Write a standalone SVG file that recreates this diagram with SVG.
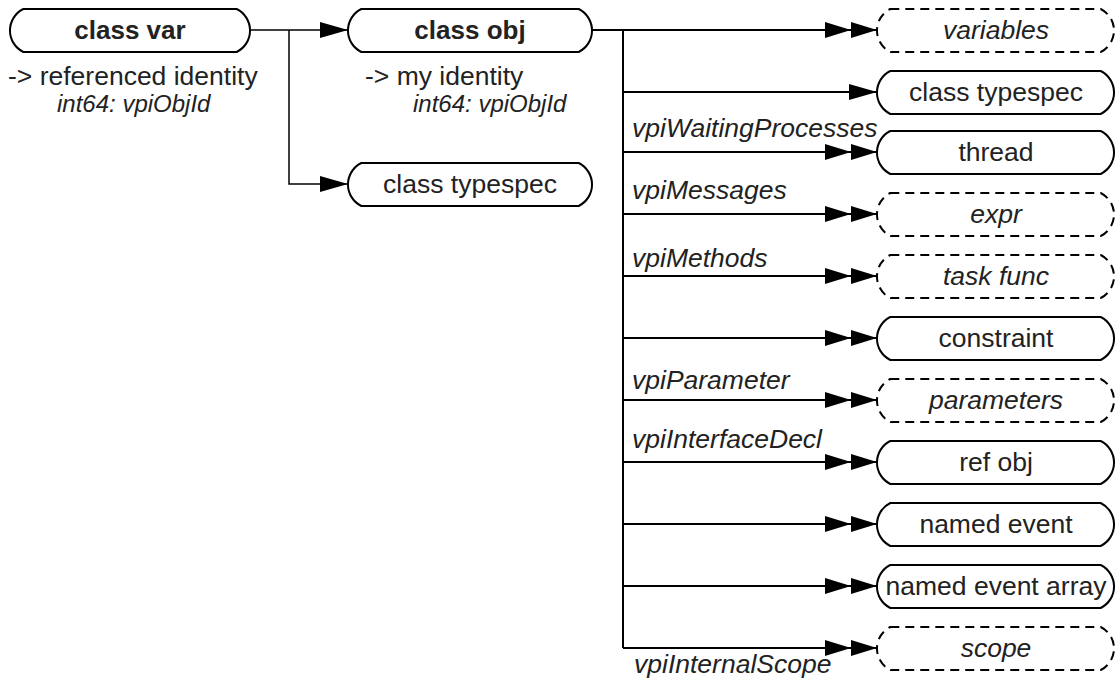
<svg xmlns="http://www.w3.org/2000/svg" width="1117" height="679" viewBox="0 0 1117 679">
<style>
  text { font-family: "Liberation Sans", Arial, sans-serif; fill: #222; }
  .node { fill: #fff; stroke: #000; stroke-width: 2; }
  .dash { fill: #fff; stroke: #000; stroke-width: 2; stroke-dasharray: 9 6; }
  .nl { font-size: 26.5px; text-anchor: middle; }
  .b { font-weight: bold; font-size: 26px; }
  .i { font-style: italic; }
  .lbl { font-size: 26.5px; font-style: italic; }
  .ann { font-size: 26.5px; }
  .sub { font-size: 24px; font-style: italic; }
  .conn { stroke: #000; stroke-width: 2; fill: none; }
  .thin { stroke: #000; stroke-width: 1.5; fill: none; }
</style>
<defs>
  <marker id="a1" markerUnits="userSpaceOnUse" markerWidth="28" markerHeight="18" refX="28" refY="9" orient="auto" viewBox="0 0 28 18">
    <path d="M0,1 L28,9 L0,17 z" fill="#000"/>
  </marker>
  <marker id="a2" markerUnits="userSpaceOnUse" markerWidth="52" markerHeight="18" refX="52" refY="9" orient="auto" viewBox="0 0 52 18">
    <path d="M0,1 L26,9 L0,17 z M26,1 L52,9 L26,17 z" fill="#000"/>
  </marker>
</defs>

<g id="connectors">
  <path class="thin" d="M250,30 H348" marker-end="url(#a1)"/>
  <path class="thin" d="M289,30 V184 H348" marker-end="url(#a1)"/>
  <path class="conn" d="M592,30 H877" marker-end="url(#a2)"/>
  <path class="conn" d="M623,30 V648"/>
  <path class="conn" d="M623,92 H877" marker-end="url(#a1)"/>
  <path class="conn" d="M623,152 H877" marker-end="url(#a2)"/>
  <path class="conn" d="M623,214 H877" marker-end="url(#a2)"/>
  <path class="conn" d="M623,276 H877" marker-end="url(#a2)"/>
  <path class="conn" d="M623,338 H877" marker-end="url(#a2)"/>
  <path class="conn" d="M623,400 H877" marker-end="url(#a2)"/>
  <path class="conn" d="M623,462 H877" marker-end="url(#a2)"/>
  <path class="conn" d="M623,524 H877" marker-end="url(#a2)"/>
  <path class="conn" d="M623,586 H877" marker-end="url(#a2)"/>
  <path class="conn" d="M623,648 H877" marker-end="url(#a2)"/>
  <text class="lbl" x="632" y="137">vpiWaitingProcesses</text>
  <text class="lbl" x="632" y="199">vpiMessages</text>
  <text class="lbl" x="632" y="267">vpiMethods</text>
  <text class="lbl" x="632" y="389">vpiParameter</text>
  <text class="lbl" x="632" y="448">vpiInterfaceDecl</text>
  <text class="lbl" x="634" y="673">vpiInternalScope</text>
</g>

<g id="class_var">
  <path class="node" d="M23.3,9 H236.7 A24,24 0 0 1 236.7,52 H23.3 A24,24 0 0 1 23.3,9 Z"/>
  <text class="nl b" x="130" y="39">class var</text>
  <text class="ann" x="8" y="85">-&gt; referenced identity</text>
  <text class="sub" x="57" y="112">int64: vpiObjId</text>
</g>

<g id="class_obj">
  <path class="node" d="M361.3,9 H578.7 A24,24 0 0 1 578.7,52 H361.3 A24,24 0 0 1 361.3,9 Z"/>
  <text class="nl b" x="470" y="39">class obj</text>
  <text class="ann" x="365" y="85">-&gt; my identity</text>
  <text class="sub" x="413" y="112">int64: vpiObjId</text>
</g>

<g id="class_typespec_left">
  <path class="node" d="M361.3,163 H578.7 A24,24 0 0 1 578.7,206 H361.3 A24,24 0 0 1 361.3,163 Z"/>
  <text class="nl" x="470" y="193">class typespec</text>
</g>

<g id="variables">
  <path class="dash" d="M890.3,9 H1100.7 A24,24 0 0 1 1100.7,52 H890.3 A24,24 0 0 1 890.3,9 Z"/>
  <text class="nl i" x="996" y="39">variables</text>
</g>
<g id="class_typespec_right">
  <path class="node" d="M890.3,71 H1100.7 A24,24 0 0 1 1100.7,114 H890.3 A24,24 0 0 1 890.3,71 Z"/>
  <text class="nl" x="996" y="101">class typespec</text>
</g>
<g id="thread">
  <path class="node" d="M890.3,131 H1100.7 A24,24 0 0 1 1100.7,174 H890.3 A24,24 0 0 1 890.3,131 Z"/>
  <text class="nl" x="996" y="161">thread</text>
</g>
<g id="expr">
  <path class="dash" d="M890.3,193 H1100.7 A24,24 0 0 1 1100.7,236 H890.3 A24,24 0 0 1 890.3,193 Z"/>
  <text class="nl i" x="996" y="223">expr</text>
</g>
<g id="task_func">
  <path class="dash" d="M890.3,255 H1100.7 A24,24 0 0 1 1100.7,298 H890.3 A24,24 0 0 1 890.3,255 Z"/>
  <text class="nl i" x="996" y="285">task func</text>
</g>
<g id="constraint">
  <path class="node" d="M890.3,317 H1100.7 A24,24 0 0 1 1100.7,360 H890.3 A24,24 0 0 1 890.3,317 Z"/>
  <text class="nl" x="996" y="347">constraint</text>
</g>
<g id="parameters">
  <path class="dash" d="M890.3,379 H1100.7 A24,24 0 0 1 1100.7,422 H890.3 A24,24 0 0 1 890.3,379 Z"/>
  <text class="nl i" x="996" y="409">parameters</text>
</g>
<g id="ref_obj">
  <path class="node" d="M890.3,441 H1100.7 A24,24 0 0 1 1100.7,484 H890.3 A24,24 0 0 1 890.3,441 Z"/>
  <text class="nl" x="996" y="471">ref obj</text>
</g>
<g id="named_event">
  <path class="node" d="M890.3,503 H1100.7 A24,24 0 0 1 1100.7,546 H890.3 A24,24 0 0 1 890.3,503 Z"/>
  <text class="nl" x="996" y="533">named event</text>
</g>
<g id="named_event_array">
  <path class="node" d="M890.3,565 H1100.7 A24,24 0 0 1 1100.7,608 H890.3 A24,24 0 0 1 890.3,565 Z"/>
  <text class="nl" x="996" y="595">named event array</text>
</g>
<g id="scope">
  <path class="dash" d="M890.3,627 H1100.7 A24,24 0 0 1 1100.7,670 H890.3 A24,24 0 0 1 890.3,627 Z"/>
  <text class="nl i" x="996" y="657">scope</text>
</g>
</svg>
